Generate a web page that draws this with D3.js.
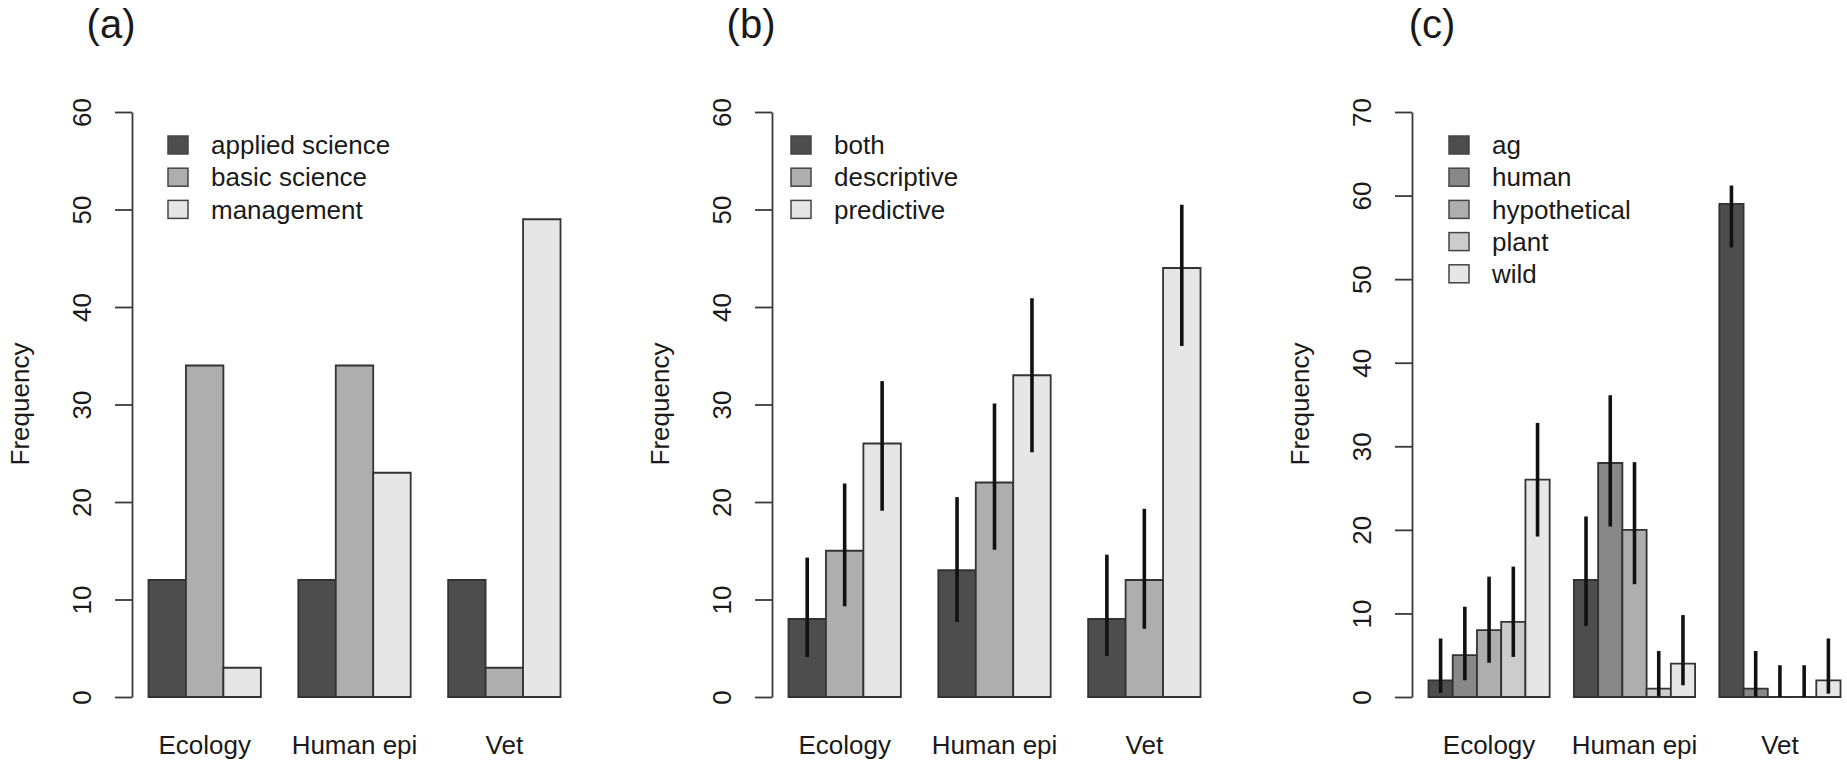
<!DOCTYPE html>
<html>
<head>
<meta charset="utf-8">
<script src="https://cdn.jsdelivr.net/npm/d3@7"></script>
<style>
  body { margin: 0; background: #fff; }
  svg { display: block; font-family: "Liberation Sans", Arial, sans-serif; }
  text { fill: #1a1a1a; }
</style>
</head>
<body>
<svg id="chart" width="1847" height="761"></svg>
<script>
// shared categories
const categories = ['Ecology', 'Human epi', 'Vet'];

// (a) research type
const seriesA = ['applied science', 'basic science', 'management'];
const valuesA = [[12, 34, 3], [12, 34, 23], [12, 3, 49]];
const colorsA = ['#4d4d4d', '#aeaeae', '#e6e6e6'];
const ticksA = [0, 10, 20, 30, 40, 50, 60];

// (b) model purpose
const seriesB = ['both', 'descriptive', 'predictive'];
const valuesB = [[8, 15, 26], [13, 22, 33], [8, 12, 44]];
const lowerB = [[4.1, 9.3, 19.1], [7.7, 15.1, 25.1], [4.2, 7.0, 36.0]];
const upperB = [[14.3, 21.9, 32.4], [20.5, 30.1, 40.9], [14.6, 19.3, 50.5]];
const colorsB = ['#4d4d4d', '#aeaeae', '#e6e6e6'];
const ticksB = [0, 10, 20, 30, 40, 50, 60];

// (c) host system
const seriesC = ['ag', 'human', 'hypothetical', 'plant', 'wild'];
const valuesC = [[2, 5, 8, 9, 26], [14, 28, 20, 1, 4], [59, 1, 0, 0, 2]];
const lowerC = [[0.5, 2.0, 4.1, 4.8, 19.2], [8.5, 20.4, 13.5, 0.05, 1.4], [53.8, 0.05, 0, 0, 0.4]];
const upperC = [[7.0, 10.8, 14.4, 15.6, 32.8], [21.6, 36.1, 28.1, 5.5, 9.8], [61.2, 5.5, 3.8, 3.8, 7.0]];
const colorsC = ['#4d4d4d', '#888888', '#aeaeae', '#cccccc', '#e6e6e6'];
const ticksC = [0, 10, 20, 30, 40, 50, 60, 70];

const svg = d3.select('#chart');
svg.append('rect').attr('width', 1847).attr('height', 761).attr('fill', '#fff');

const plotWidth = 445;
const yBottom = 697;
const yTop = 112;
const fontSize = 26;

function drawPanel(opts) {
  const { left, label, series, values, lower, upper, colors, ticks, legendDx, labelDx } = opts;
  const g = svg.append('g').attr('transform', `translate(${left},0)`);

  const k = series.length;
  const n = categories.length;

  // R barplot(beside = TRUE): one empty bar between groups, 4% padding outside
  const x0 = d3.scaleBand()
    .domain(categories)
    .range([0, plotWidth])
    .paddingInner(1 / (k + 1))
    .paddingOuter((0.04 * (n * (k + 1) - 1)) / (k + 1));
  const x1 = d3.scaleBand().domain(series).range([0, x0.bandwidth()]);
  const y = d3.scaleLinear().domain([0, d3.max(ticks)]).range([yBottom, yTop]);

  // bars
  categories.forEach((cat, i) => {
    const grp = g.append('g');
    series.forEach((s, j) => {
      const bx = x0(cat) + x1(s);
      const bw = x1.bandwidth();
      grp.append('path')
        .attr('d', `M${bx},${y(0)}H${bx + bw}V${y(values[i][j])}H${bx}Z`)
        .attr('fill', colors[j])
        .attr('stroke', '#333')
        .attr('stroke-width', 1.8);
    });
    if (lower) {
      series.forEach((s, j) => {
        const cx = x0(cat) + x1(s) + x1.bandwidth() / 2;
        grp.append('line')
          .attr('x1', cx).attr('x2', cx)
          .attr('y1', y(lower[i][j])).attr('y2', y(upper[i][j]))
          .attr('stroke', '#111')
          .attr('stroke-width', 3.6);
      });
    }
    g.append('text')
      .attr('x', x0(cat) + x0.bandwidth() / 2)
      .attr('y', 754)
      .attr('text-anchor', 'middle')
      .attr('font-size', fontSize)
      .text(cat);
  });

  // y axis with rotated labels, R style
  const yAxis = d3.axisLeft(y).tickValues(ticks).tickSize(17).tickSizeOuter(0);
  const ax = g.append('g').call(yAxis);
  ax.select('.domain').attr('stroke', '#3a3a3a').attr('stroke-width', 1.8);
  ax.selectAll('.tick line').attr('stroke', '#3a3a3a').attr('stroke-width', 1.8);
  ax.selectAll('.tick text')
    .attr('transform', 'rotate(-90)')
    .attr('x', 0)
    .attr('y', -50)
    .attr('dy', '0.36em')
    .attr('text-anchor', 'middle')
    .attr('font-size', fontSize)
    .attr('font-family', '"Liberation Sans", Arial, sans-serif')
    .attr('fill', '#1a1a1a');

  g.append('text')
    .attr('transform', `translate(-112,404) rotate(-90)`)
    .attr('text-anchor', 'middle')
    .attr('dominant-baseline', 'central')
    .attr('font-size', fontSize)
    .text('Frequency');

  g.append('text')
    .attr('x', labelDx)
    .attr('y', 38)
    .attr('text-anchor', 'middle')
    .attr('font-size', 40)
    .text(label);

  // legend
  const leg = g.append('g').attr('transform', `translate(${legendDx},145)`);
  series.forEach((s, j) => {
    const row = leg.append('g').attr('transform', `translate(0,${j * 32.2})`);
    row.append('rect')
      .attr('x', 0).attr('y', -9)
      .attr('width', 20).attr('height', 18)
      .attr('fill', colors[j])
      .attr('stroke', '#444')
      .attr('stroke-width', 1.5);
    row.append('text')
      .attr('x', 43)
      .attr('dy', '0.35em')
      .attr('font-size', fontSize)
      .text(s);
  });
}

drawPanel({
  left: 132, label: '(a)', series: seriesA, values: valuesA,
  colors: colorsA, ticks: ticksA, legendDx: 36, labelDx: -21
});
drawPanel({
  left: 772, label: '(b)', series: seriesB, values: valuesB,
  lower: lowerB, upper: upperB,
  colors: colorsB, ticks: ticksB, legendDx: 19, labelDx: -21
});
drawPanel({
  left: 1412, label: '(c)', series: seriesC, values: valuesC,
  lower: lowerC, upper: upperC,
  colors: colorsC, ticks: ticksC, legendDx: 37, labelDx: 20
});
</script>
</body>
</html>
